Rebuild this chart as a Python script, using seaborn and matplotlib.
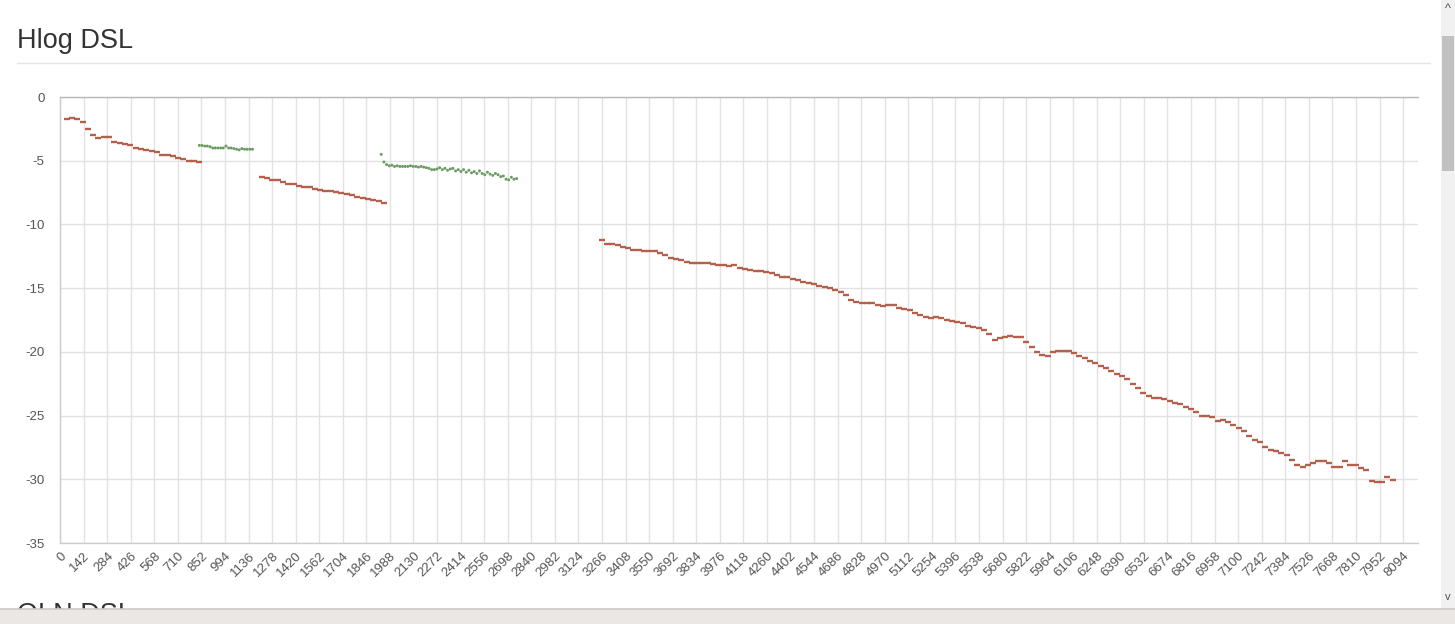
import numpy as np
import pandas as pd
import matplotlib
matplotlib.use("Agg")
import matplotlib.pyplot as plt
from matplotlib.patches import Rectangle
from matplotlib.lines import Line2D
import seaborn as sns

# Hlog per tone (dB)
up1_tone = np.arange(40, 841, 32)
up1_hlog = [-1.75, -1.62, -1.72, -1.95, -2.5, -2.95, -3.25, -3.1, -3.15, -3.55,
            -3.6, -3.7, -3.8, -4.0, -4.1, -4.15, -4.25, -4.3, -4.55, -4.55,
            -4.6, -4.8, -4.9, -5.0, -5.05, -5.1]

dn1_tone = np.arange(840, 1161, 16)
dn1_hlog = [-3.8, -3.8, -3.85, -3.85, -3.9, -4.0, -4.0, -4.0, -4.0, -4.0,
            -3.85, -4.0, -4.0, -4.05, -4.1, -4.15, -4.05, -4.1, -4.1, -4.1, -4.1]

up2_tone = np.arange(1216, 1953, 32)
up2_hlog = [-6.3, -6.35, -6.5, -6.55, -6.7, -6.8, -6.85, -6.95, -7.05, -7.1,
            -7.2, -7.3, -7.35, -7.4, -7.45, -7.55, -7.6, -7.7, -7.85, -7.95,
            -8.0, -8.05, -8.2, -8.35]

dn2_tone = np.arange(1936, 2753, 16)
dn2_hlog = [-4.5, -5.1, -5.3, -5.4, -5.35, -5.45, -5.4, -5.45, -5.45, -5.45,
            -5.45, -5.4, -5.45, -5.45, -5.5, -5.45, -5.5, -5.55, -5.6, -5.7,
            -5.7, -5.65, -5.55, -5.7, -5.6, -5.75, -5.65, -5.6, -5.8, -5.7,
            -5.85, -5.7, -5.9, -5.75, -5.95, -5.85, -6.0, -5.8, -6.0, -6.1,
            -5.9, -6.05, -6.15, -6.0, -6.1, -6.25, -6.2, -6.45, -6.5, -6.3,
            -6.45, -6.4]

up3_tone = np.arange(3264, 8033, 32)
up3_hlog = [-11.2, -11.5, -11.55, -11.6, -11.8, -11.85, -12.0, -12.0, -12.05, -12.05,
            -12.1, -12.25, -12.4, -12.6, -12.7, -12.8, -12.95, -13.0, -13.0, -13.05,
            -13.05, -13.1, -13.15, -13.2, -13.3, -13.2, -13.45, -13.5, -13.55, -13.65,
            -13.65, -13.75, -13.85, -14.0, -14.1, -14.15, -14.25, -14.35, -14.5, -14.6,
            -14.7, -14.8, -14.9, -15.0, -15.15, -15.3, -15.5, -15.9, -16.1, -16.2,
            -16.2, -16.2, -16.3, -16.4, -16.3, -16.3, -16.55, -16.65, -16.75, -16.95,
            -17.1, -17.25, -17.35, -17.3, -17.35, -17.5, -17.6, -17.65, -17.75, -17.95,
            -18.05, -18.1, -18.3, -18.6, -19.05, -18.9, -18.8, -18.75, -18.8, -18.85,
            -19.2, -19.6, -20.0, -20.25, -20.3, -20.05, -19.95, -19.9, -19.95, -20.1,
            -20.3, -20.5, -20.7, -20.9, -21.1, -21.3, -21.5, -21.7, -21.9, -22.15,
            -22.5, -22.8, -23.2, -23.5, -23.6, -23.6, -23.7, -23.85, -24.0, -24.1,
            -24.3, -24.5, -24.75, -25.0, -25.05, -25.1, -25.45, -25.35, -25.5, -25.75,
            -25.95, -26.2, -26.6, -26.9, -27.1, -27.5, -27.7, -27.8, -27.95, -28.1,
            -28.45, -28.9, -29.0, -28.85, -28.7, -28.6, -28.6, -28.75, -29.05, -29.0,
            -28.6, -28.9, -28.9, -29.1, -29.3, -30.1, -30.2, -30.25, -29.85, -30.05]

x_ticks = np.arange(0, 8095, 142)
y_ticks = [0, -5, -10, -15, -20, -25, -30, -35]

RED = "#b3614c"
GREEN = "#6b9a62"

sns.set_style("white")
plt.rcParams["font.family"] = ["Liberation Sans", "DejaVu Sans"]
plt.rcParams["axes.unicode_minus"] = False

fig = plt.figure(figsize=(14.55, 6.24), dpi=100)
ax = fig.add_axes([60 / 1455, 1 - 543 / 624, 1358 / 1455, 446 / 624])

up = pd.concat([
    pd.DataFrame({"tone": up1_tone, "hlog": up1_hlog}),
    pd.DataFrame({"tone": up2_tone, "hlog": up2_hlog}),
    pd.DataFrame({"tone": up3_tone, "hlog": up3_hlog}),
])
dn = pd.concat([
    pd.DataFrame({"tone": dn1_tone, "hlog": dn1_hlog}),
    pd.DataFrame({"tone": dn2_tone, "hlog": dn2_hlog}),
])

sns.scatterplot(data=up, x="tone", y="hlog", ax=ax, marker="_", s=14,
                color=RED, linewidth=1.7, zorder=3)
sns.scatterplot(data=dn, x="tone", y="hlog", ax=ax, marker="o", s=4.5,
                color=GREEN, edgecolor="none", linewidth=0, zorder=3)

ax.set_xlim(0, 8184)
ax.set_ylim(-35, 0)
ax.set_xticks(x_ticks)
ax.set_xticklabels([str(t) for t in x_ticks], rotation=45, ha="right",
                   rotation_mode="anchor")
ax.set_yticks(y_ticks)
ax.set_xlabel("")
ax.set_ylabel("")
ax.grid(True, color="#e2e2e2", linewidth=1)
ax.set_axisbelow(True)
ax.tick_params(axis="x", length=0, pad=5, labelsize=9.5, labelcolor="#555555")
ax.tick_params(axis="y", length=9, width=1, color="#d0d0d0", pad=2,
               labelsize=9.5, labelcolor="#555555")
ax.spines["right"].set_visible(False)
ax.spines["top"].set_color("#b8b8b8")
ax.spines["bottom"].set_color("#cccccc")
ax.spines["left"].set_color("#cccccc")
for s in ax.spines.values():
    s.set_linewidth(1)

# page furniture around the chart
fig.text(17 / 1455, 1 - 48 / 624, "Hlog DSL", fontsize=19.5, color="#333333",
         va="baseline", ha="left")
fig.add_artist(Line2D([17 / 1455, 1430 / 1455], [1 - 63 / 624, 1 - 63 / 624],
                      color="#e5e5e5", linewidth=1))
fig.text(17 / 1455, 1 - 622 / 624, "OLN DSL", fontsize=19.5, color="#333333",
         va="baseline", ha="left", zorder=1)
fig.add_artist(Rectangle((0, 0), 1, 15 / 624, transform=fig.transFigure,
                         facecolor="#ebe7e4", edgecolor="none", zorder=10))
fig.add_artist(Line2D([0, 1], [15 / 624, 15 / 624], color="#c9c9c9",
                      linewidth=1.2, zorder=11))
fig.add_artist(Rectangle((1441 / 1455, 15 / 624), 14 / 1455, 609 / 624,
                         transform=fig.transFigure, facecolor="#f1f1f1",
                         edgecolor="none", zorder=9))
fig.add_artist(Rectangle((1442 / 1455, 1 - 171 / 624), 12 / 1455, 135 / 624,
                         transform=fig.transFigure, facecolor="#c1c1c1",
                         edgecolor="none", zorder=10))
fig.text(1448 / 1455, 1 - 9 / 624, "^", fontsize=9, color="#505050",
         ha="center", va="center", zorder=11)
fig.text(1448 / 1455, 1 - 597 / 624, "v", fontsize=8, color="#505050",
         ha="center", va="center", zorder=11)

fig.savefig("out.png", dpi=100)
